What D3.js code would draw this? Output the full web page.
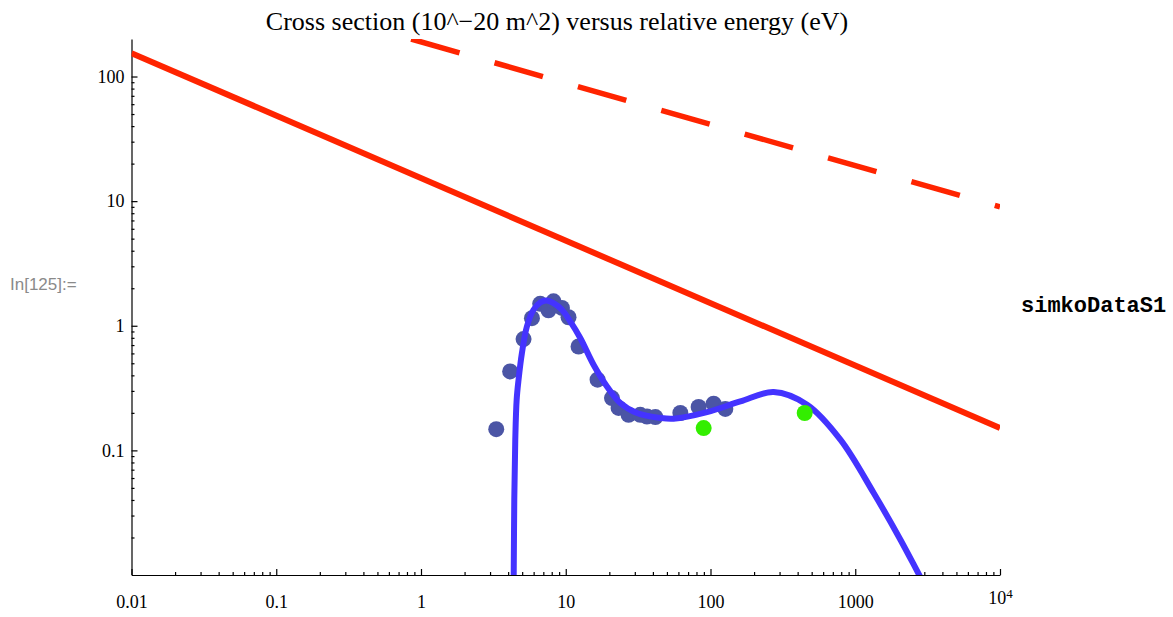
<!DOCTYPE html>
<html>
<head>
<meta charset="utf-8">
<script src="https://cdn.jsdelivr.net/npm/d3@7"></script>
<style>
  body { margin: 0; background: #fff; }
  svg { display: block; }
  .axis path, .axis line { stroke: #000; stroke-width: 1.2; }
  .axis text { font-family: "Liberation Serif", "Times New Roman", serif; font-size: 18px; fill: #000; }
</style>
</head>
<body>
<svg id="chart" width="1173" height="617"></svg>
<script>
"use strict";

// tick values (log axes)
const xMajor = [0.01, 0.1, 1, 10, 100, 1000, 10000];
const yMajor = [0.1, 1, 10, 100];

// red reference lines: end points (straight in log-log)
const solidLine  = [ { e: 0.01, s: 154 },  { e: 10000, s: 0.151 } ];
const dashedLine = [ { e: 0.855, s: 200 }, { e: 10000, s: 9.0 } ];

// measured cross sections (blue dots)
const measE = [3.31, 4.13, 5.11, 5.84, 6.66, 7.60, 8.23, 9.41, 10.45, 12.26, 16.59,
               20.86, 23.17, 27.16, 32.7, 36.4, 41.6, 61.9, 82.8, 105.1, 126.6];
const measS = [0.148, 0.430, 0.782, 1.15, 1.50, 1.33, 1.57, 1.39, 1.17, 0.682, 0.369,
               0.263, 0.219, 0.193, 0.193, 0.187, 0.185, 0.1995, 0.223, 0.237, 0.215];

// extra points (green dots)
const extraE = [89.7, 447.5];
const extraS = [0.151, 0.1995];

// fitted curve (blue line)
const fitE = [4.33, 4.37, 4.41, 4.48, 4.58, 4.72, 4.98, 5.39, 5.99, 6.66, 7.33, 8.23, 9.41,
              10.74, 12.60, 15.56, 19.27, 23.81, 31.05, 45.0, 55.6, 94.6, 160.7, 273.2,
              464.8, 789.7, 1341, 2052, 2828, 3878];
const fitS = [0.005, 0.0101, 0.0403, 0.122, 0.255, 0.369, 0.604, 0.987, 1.344, 1.538, 1.596,
              1.52, 1.344, 1.083, 0.797, 0.487, 0.326, 0.240, 0.1995, 0.182, 0.1795, 0.2024,
              0.247, 0.294, 0.2325, 0.1219, 0.0455, 0.0192, 0.00953, 0.00481];

const plot = { left: 131.5, right: 1000, top: 39, bottom: 575 };

const svg = d3.select('#chart');

// scales
const x = d3.scaleLog().domain([0.01, 10000]).range([plot.left, plot.right]);
const y = d3.scaleLog().domain([0.01, 200]).range([plot.bottom, plot.top]);

// minor ticks 2..9 per decade
const minorTicks = (lo, hi) => {
  const out = [];
  for (let k = lo; k <= hi; k++) {
    for (let m = 2; m <= 9; m++) out.push(m * Math.pow(10, k));
  }
  return out;
};

// clip to plot area
svg.append('defs').append('clipPath').attr('id', 'clip')
  .append('rect')
    .attr('x', plot.left).attr('y', plot.top)
    .attr('width', plot.right - plot.left).attr('height', plot.bottom - plot.top);

// title
svg.append('text')
    .attr('x', 557).attr('y', 30)
    .attr('text-anchor', 'middle')
    .style('font-family', '"Liberation Serif", "Times New Roman", serif')
    .style('font-size', '26px')
    .text('Cross section (10^\u221220 m^2) versus relative energy (eV)');

// side labels
svg.append('text')
    .attr('x', 10).attr('y', 290)
    .style('font-family', '"Liberation Sans", Arial, sans-serif')
    .style('font-size', '17px')
    .style('fill', '#8a8a8a')
    .text('In[125]:=');

svg.append('text')
    .attr('x', 1021).attr('y', 312)
    .style('font-family', '"Liberation Mono", "Courier New", monospace')
    .style('font-weight', 'bold')
    .style('font-size', '22px')
    .text('simkoDataS1');

// minor ticks
svg.append('g')
    .attr('class', 'axis')
    .attr('transform', `translate(0,${plot.bottom})`)
    .call(d3.axisBottom(x).tickValues(minorTicks(-2, 3)).tickSize(-3).tickSizeOuter(0).tickFormat(''))
    .call(g => g.select('.domain').remove());

svg.append('g')
    .attr('class', 'axis')
    .attr('transform', `translate(${plot.left},0)`)
    .call(d3.axisLeft(y).tickValues(minorTicks(-2, 1)).tickSize(-3).tickSizeOuter(0).tickFormat(''))
    .call(g => g.select('.domain').remove());

// major axes
const xAxis = svg.append('g')
    .attr('class', 'axis')
    .attr('transform', `translate(0,${plot.bottom})`)
    .call(d3.axisBottom(x).tickValues(xMajor).tickSize(-6).tickSizeOuter(0).tickPadding(20.5)
      .tickFormat(d => d === 10000 ? '' : String(d)));

// 10^4 label with superscript
xAxis.selectAll('.tick').filter(d => d === 10000).select('text')
    .attr('dy', '0.45em')
    .call(t => {
      t.append('tspan').text('10');
      t.append('tspan').attr('dy', '-0.45em').style('font-size', '13px').text('4');
    });

svg.append('g')
    .attr('class', 'axis')
    .attr('transform', `translate(${plot.left},0)`)
    .call(d3.axisLeft(y).tickValues(yMajor).tickSize(-6).tickSizeOuter(0).tickPadding(7)
      .tickFormat(d => String(d)));

// plotted content
const layer = svg.append('g').attr('clip-path', 'url(#clip)');

const line = d3.line()
    .x(d => x(d.e))
    .y(d => y(d.s));

// red solid line
layer.append('path')
    .datum(solidLine)
    .attr('d', line)
    .attr('fill', 'none')
    .attr('stroke', '#ff2400')
    .attr('stroke-width', 6);

// red dashed line
layer.append('path')
    .datum(dashedLine)
    .attr('d', line)
    .attr('fill', 'none')
    .attr('stroke', '#ff2400')
    .attr('stroke-width', 5.5)
    .attr('stroke-dasharray', '50.3 36.4');

// blue measurement dots
const meas = measE.map((e, i) => ({ e: e, s: measS[i] }));
layer.selectAll('.meas')
    .data(meas)
  .enter().append('circle')
    .attr('class', 'meas')
    .attr('cx', d => x(d.e))
    .attr('cy', d => y(d.s))
    .attr('r', 8)
    .attr('fill', '#4b55a5');

// fitted curve
const fit = fitE.map((e, i) => ({ e: e, s: fitS[i] }));
layer.append('path')
    .datum(fit)
    .attr('d', line.curve(d3.curveCatmullRom.alpha(0.5)))
    .attr('fill', 'none')
    .attr('stroke', '#4433ff')
    .attr('stroke-width', 6)
    .attr('stroke-linejoin', 'round');

// green dots
const extra = extraE.map((e, i) => ({ e: e, s: extraS[i] }));
layer.selectAll('.extra')
    .data(extra)
  .enter().append('circle')
    .attr('class', 'extra')
    .attr('cx', d => x(d.e))
    .attr('cy', d => y(d.s))
    .attr('r', 8)
    .attr('fill', '#33ee00');
</script>
</body>
</html>
